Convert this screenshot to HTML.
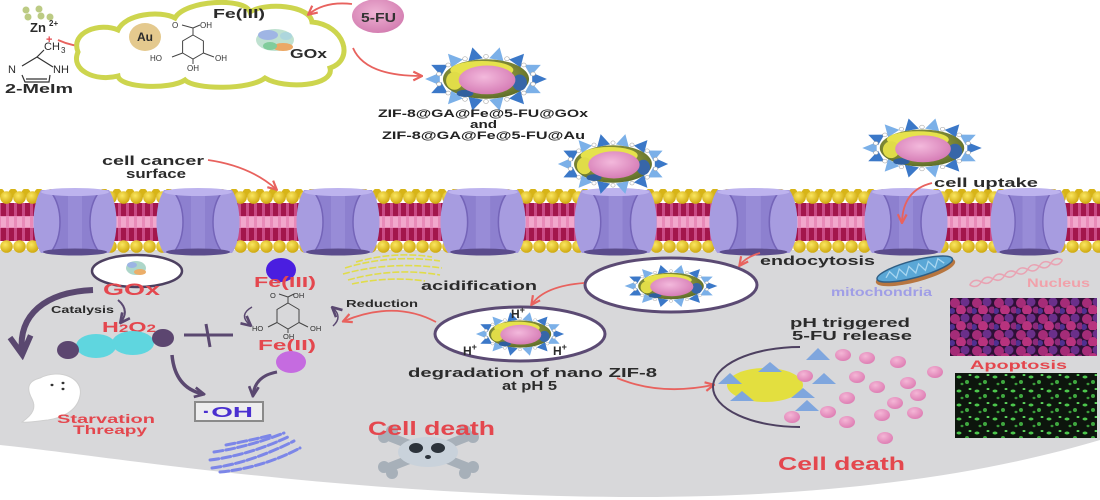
<!DOCTYPE html>
<html><head><meta charset="utf-8"><style>
html,body{margin:0;padding:0;background:#fff;}
svg{display:block;}
text{font-family:"Liberation Sans",Arial,sans-serif;}
</style></head><body>
<svg width="1100" height="500" viewBox="0 0 1100 500" xmlns="http://www.w3.org/2000/svg" xmlns:xlink="http://www.w3.org/1999/xlink">
<defs>
<radialGradient id="olive" cx="45%" cy="40%" r="60%"><stop offset="0" stop-color="#b7b94c"/><stop offset="1" stop-color="#5f6e2a"/></radialGradient>
<radialGradient id="pinkg" cx="45%" cy="40%" r="60%"><stop offset="0" stop-color="#f3b9dc"/><stop offset="1" stop-color="#d67db6"/></radialGradient>
<radialGradient id="bead" cx="40%" cy="35%" r="65%"><stop offset="0" stop-color="#fbe760"/><stop offset="1" stop-color="#cfa90f"/></radialGradient>
<radialGradient id="fu" cx="45%" cy="40%" r="60%"><stop offset="0" stop-color="#eeb3d4"/><stop offset="1" stop-color="#d47fb2"/></radialGradient>
<radialGradient id="pdot" cx="40%" cy="35%" r="65%"><stop offset="0" stop-color="#f4b6d6"/><stop offset="1" stop-color="#de7fb4"/></radialGradient>
<pattern id="lip" x="0" y="203" width="8" height="38" patternUnits="userSpaceOnUse"><rect width="8" height="38" fill="#c94a85"/><rect x="1" y="0" width="5" height="13" fill="#a3164c"/><rect x="1" y="25" width="5" height="13" fill="#a3164c"/><rect x="0" y="13" width="8" height="12" fill="#e98ab8"/><rect x="1" y="14" width="5" height="10" fill="#f2a8cc"/></pattern>
<pattern id="beadT" x="0" y="189" width="13" height="15" patternUnits="userSpaceOnUse"><circle cx="0" cy="4" r="4.5" fill="#d7b418"/><circle cx="13" cy="4" r="4.5" fill="#d7b418"/><circle cx="6.5" cy="8.5" r="6.3" fill="url(#bead)"/></pattern>
<pattern id="beadB" x="0" y="240" width="13" height="13" patternUnits="userSpaceOnUse"><circle cx="6.5" cy="6.5" r="6.3" fill="url(#bead)"/></pattern>
<pattern id="pinkImg" x="950" y="298" width="22" height="16" patternUnits="userSpaceOnUse"><rect width="22" height="16" fill="#2e1036"/><circle cx="5" cy="5" r="5" fill="#a52c78"/><circle cx="15" cy="4" r="4.5" fill="#6a2f8a"/><circle cx="11" cy="12" r="5" fill="#b8337e"/><circle cx="2" cy="13" r="3" fill="#4f3090"/><circle cx="20" cy="12" r="3.5" fill="#8c2a7a"/></pattern>
<pattern id="greenImg" x="955" y="373" width="18" height="14" patternUnits="userSpaceOnUse"><rect width="18" height="14" fill="#0d150d"/><ellipse cx="4" cy="4" rx="2.5" ry="1.5" fill="#4cc74c"/><ellipse cx="12" cy="9" rx="2" ry="2" fill="#3fa83f"/><ellipse cx="15" cy="2" rx="1.5" ry="1" fill="#5fd85f"/><ellipse cx="7" cy="11" rx="1.5" ry="1.2" fill="#3a9a3a"/></pattern>
<marker id="mr" markerUnits="userSpaceOnUse" viewBox="0 0 10 10" refX="8" refY="5" markerWidth="11" markerHeight="11" orient="auto"><path d="M1,1 L9,5 L1,9" fill="none" stroke="#e8625e" stroke-width="2"/></marker>
<marker id="md" markerUnits="userSpaceOnUse" viewBox="0 0 10 10" refX="8" refY="5" markerWidth="12" markerHeight="12" orient="auto"><path d="M1,1 L9,5 L1,9" fill="none" stroke="#5a4870" stroke-width="2.2"/></marker>
<marker id="mdB" markerUnits="userSpaceOnUse" viewBox="0 0 10 10" refX="7" refY="5" markerWidth="26" markerHeight="26" orient="auto"><path d="M1,1 L8,5 L1,9" fill="none" stroke="#5a4870" stroke-width="2.2"/></marker>
<g id="np">
<polygon points="-6,-7 8,0 -6,7" fill="#3b78c8" transform="translate(50,0)"/>
<polygon points="-6,-7 8,0 -6,7" fill="#7bb0e8" transform="translate(45,12.2) rotate(26)"/>
<polygon points="-6,-7 8,0 -6,7" fill="#3b78c8" transform="translate(31.2,21.9) rotate(51)"/>
<polygon points="-6,-7 8,0 -6,7" fill="#7bb0e8" transform="translate(11.2,27.3) rotate(77)"/>
<polygon points="-6,-7 8,0 -6,7" fill="#3b78c8" transform="translate(-11.2,27.3) rotate(103)"/>
<polygon points="-6,-7 8,0 -6,7" fill="#7bb0e8" transform="translate(-31.2,21.9) rotate(129)"/>
<polygon points="-6,-7 8,0 -6,7" fill="#3b78c8" transform="translate(-45,12.2) rotate(154)"/>
<polygon points="-6,-7 8,0 -6,7" fill="#7bb0e8" transform="translate(-50,0) rotate(180)"/>
<polygon points="-6,-7 8,0 -6,7" fill="#3b78c8" transform="translate(-45,-12.2) rotate(206)"/>
<polygon points="-6,-7 8,0 -6,7" fill="#7bb0e8" transform="translate(-31.2,-21.9) rotate(231)"/>
<polygon points="-6,-7 8,0 -6,7" fill="#3b78c8" transform="translate(-11.2,-27.3) rotate(257)"/>
<polygon points="-6,-7 8,0 -6,7" fill="#7bb0e8" transform="translate(11.2,-27.3) rotate(283)"/>
<polygon points="-6,-7 8,0 -6,7" fill="#3b78c8" transform="translate(31.2,-21.9) rotate(309)"/>
<polygon points="-6,-7 8,0 -6,7" fill="#7bb0e8" transform="translate(45,-12.2) rotate(334)"/>
<g fill="#fff" stroke="#a0a0a0" stroke-width="0.6">
<circle cx="44.8" cy="5.6" r="2.2"/><circle cx="36" cy="15.6" r="2.2"/><circle cx="20" cy="22.5" r="2.2"/><circle cx="0" cy="25" r="2.2"/><circle cx="-20" cy="22.5" r="2.2"/><circle cx="-36" cy="15.6" r="2.2"/><circle cx="-44.8" cy="5.6" r="2.2"/><circle cx="-44.8" cy="-5.6" r="2.2"/><circle cx="-36" cy="-15.6" r="2.2"/><circle cx="-20" cy="-22.5" r="2.2"/><circle cx="0" cy="-25" r="2.2"/><circle cx="20" cy="-22.5" r="2.2"/><circle cx="36" cy="-15.6" r="2.2"/><circle cx="44.8" cy="-5.6" r="2.2"/>
</g>
<ellipse rx="41" ry="22" fill="url(#olive)"/>
<ellipse cx="-4" cy="-10" rx="30" ry="10" fill="#e6e24c"/>
<ellipse cx="-30" cy="2" rx="8" ry="10" fill="#e0dc48"/>
<ellipse cx="32" cy="4" rx="7" ry="9" fill="#3766a8"/>
<ellipse cx="-20" cy="16" rx="8" ry="4" fill="#2f5f9e"/>
<ellipse cx="1" cy="1" rx="27" ry="16" fill="url(#pinkg)"/>
</g>
<g id="pu">
<path d="M6,190 L74,190 C84,205 84,240 74,253 L6,253 C-4,240 -4,205 6,190 Z" fill="#a79ce0"/>
<path d="M16,192 L64,192 C52,208 52,236 64,252 L16,252 C28,236 28,208 16,192 Z" fill="#8d80cf"/>
<rect x="33" y="196" width="14" height="54" fill="#a095dc" opacity="0.6"/>
<path d="M16,192 C28,208 28,236 16,252 M64,192 C52,208 52,236 64,252" fill="none" stroke="#7464b8" stroke-width="1.5"/>
<ellipse cx="40" cy="192" rx="34" ry="4" fill="#bdb3ee"/>
<ellipse cx="40" cy="252" rx="32" ry="3.5" fill="#5b4c8c"/>
</g>
</defs>

<rect width="1100" height="500" fill="#fff"/>

<path d="M0,250 L1100,250 L1100,440 C1000,470 850,497 640,497 C350,497 100,455 0,445 Z" fill="#d8d8da"/>

<rect x="0" y="203" width="1100" height="38" fill="url(#lip)"/>
<rect x="0" y="189" width="1100" height="15" fill="url(#beadT)"/>
<rect x="0" y="240" width="1100" height="13" fill="url(#beadB)"/>
<use href="#pu" xlink:href="#pu" transform="translate(35,0)"/>
<use href="#pu" xlink:href="#pu" transform="translate(158,0)"/>
<use href="#pu" xlink:href="#pu" transform="translate(298,0)"/>
<use href="#pu" xlink:href="#pu" transform="translate(442,0) scale(1.025,1)"/>
<use href="#pu" xlink:href="#pu" transform="translate(576,0) scale(0.99,1)"/>
<use href="#pu" xlink:href="#pu" transform="translate(711,0) scale(1.06,1)"/>
<use href="#pu" xlink:href="#pu" transform="translate(866,0)"/>
<use href="#pu" xlink:href="#pu" transform="translate(992,0) scale(0.925,1)"/>

<g fill="#bccb84"><circle cx="26" cy="10" r="3.5"/><circle cx="39" cy="9" r="3.5"/><circle cx="28" cy="17" r="3.5"/><circle cx="41" cy="16" r="3.5"/><circle cx="50" cy="17" r="3.5"/></g>
<text x="30" y="32" font-size="13" font-weight="bold" fill="#2b2b2b">Zn</text>
<text x="49" y="26" font-size="8" font-weight="bold" fill="#2b2b2b">2+</text>
<text x="46" y="43" font-size="11" font-weight="bold" fill="#e4474e">+</text>
<text x="44" y="50" font-size="11" fill="#2b2b2b">CH</text>
<text x="61" y="53" font-size="8" fill="#2b2b2b">3</text>
<g stroke="#333" stroke-width="1.2" fill="none">
<path d="M37,57 L53,67 M50,75 L49,82 L25,82 L22,75 M22,66 L37,57 M37,57 L44,50"/>
<path d="M26,79 L47,79"/>
</g>
<text x="8" y="73" font-size="11" fill="#2b2b2b">N</text>
<text x="53" y="73" font-size="11" fill="#2b2b2b">NH</text>
<text x="5" y="93" font-size="13" font-weight="bold" fill="#2b2b2b" textLength="68" lengthAdjust="spacingAndGlyphs">2-MeIm</text>
<path d="M58,40 Q80,50 104,45" fill="none" stroke="#e8625e" stroke-width="1.8" marker-end="url(#mr)"/>

<path d="M78,52 C70,32 100,22 118,30 C125,14 160,10 175,18 C185,0 245,-3 250,12 C265,2 310,5 312,22 C345,25 355,60 330,68 C335,86 285,90 265,78 C250,90 195,90 185,80 C170,90 120,88 118,76 C95,82 70,70 78,52 Z" fill="#fff" stroke="#cdd54e" stroke-width="5"/>
<ellipse cx="145" cy="37" rx="16" ry="14" fill="#e4c98e"/>
<text x="145" y="41" font-size="12" font-weight="bold" fill="#2b2b2b" text-anchor="middle">Au</text>
<text x="213" y="18" font-size="13" font-weight="bold" fill="#2b2b2b" textLength="52" lengthAdjust="spacingAndGlyphs">Fe(III)</text>
<g stroke="#444" stroke-width="1" fill="none">
<polygon points="193,35 203.4,41 203.4,53 193,59 182.6,53 182.6,41"/>
<path d="M193,35 L193,28 M193,28 L182,25 M193,28 L200,25 M182.6,53 L172,57 M203.4,53 L214,57 M193,59 L193,64"/>
</g>
<g font-size="8" fill="#333">
<text x="172" y="28">O</text><text x="200" y="28">OH</text><text x="150" y="61">HO</text><text x="215" y="61">OH</text><text x="187" y="71">OH</text>
</g>
<g opacity="0.85">
<ellipse cx="275" cy="40" rx="19" ry="11" fill="#b5dcc8"/>
<ellipse cx="268" cy="35" rx="10" ry="5" fill="#8fa9e0"/>
<ellipse cx="283" cy="47" rx="10" ry="4" fill="#e89a4a"/>
<ellipse cx="270" cy="46" rx="7" ry="4" fill="#6cc48a"/>
<ellipse cx="286" cy="36" rx="6" ry="4" fill="#9fd0d8"/>
</g>
<text x="290" y="58" font-size="13" font-weight="bold" fill="#2b2b2b" textLength="37" lengthAdjust="spacingAndGlyphs">GOx</text>

<ellipse cx="378" cy="16" rx="26" ry="17" fill="url(#fu)"/>
<text x="361" y="22" font-size="13" font-weight="bold" fill="#333" textLength="35" lengthAdjust="spacingAndGlyphs">5-FU</text>
<path d="M352,4 Q325,1 309,14" fill="none" stroke="#e8625e" stroke-width="1.8" marker-end="url(#mr)"/>
<path d="M353,48 Q365,76 421,76" fill="none" stroke="#e8625e" stroke-width="1.8" marker-end="url(#mr)"/>

<use href="#np" xlink:href="#np" transform="translate(486,79) scale(1.05,0.9)"/>
<use href="#np" xlink:href="#np" transform="translate(613,164) scale(0.95,0.85)"/>
<use href="#np" xlink:href="#np" transform="translate(922,148) scale(1.03,0.84)"/>
<text x="378" y="117" font-size="11" font-weight="bold" fill="#222" textLength="210" lengthAdjust="spacingAndGlyphs">ZIF-8@GA@Fe@5-FU@GOx</text>
<text x="470" y="128" font-size="11" font-weight="bold" fill="#222" textLength="27" lengthAdjust="spacingAndGlyphs">and</text>
<text x="382" y="139" font-size="11" font-weight="bold" fill="#222" textLength="203" lengthAdjust="spacingAndGlyphs">ZIF-8@GA@Fe@5-FU@Au</text>

<text x="102" y="165" font-size="13" font-weight="bold" fill="#2b2b2b" textLength="102" lengthAdjust="spacingAndGlyphs">cell cancer</text>
<text x="126" y="178" font-size="13" font-weight="bold" fill="#2b2b2b" textLength="60" lengthAdjust="spacingAndGlyphs">surface</text>
<path d="M208,160 Q250,166 276,189" fill="none" stroke="#e8625e" stroke-width="1.8" marker-end="url(#mr)"/>
<text x="934" y="187" font-size="13" font-weight="bold" fill="#2b2b2b" textLength="104" lengthAdjust="spacingAndGlyphs">cell uptake</text>
<path d="M932,183 Q903,190 902,222" fill="none" stroke="#e8625e" stroke-width="1.8" marker-end="url(#mr)"/>

<ellipse cx="137" cy="271" rx="45" ry="16" fill="#fff" stroke="#4d4060" stroke-width="2.5"/>
<g opacity="0.85"><ellipse cx="136" cy="268" rx="10" ry="7" fill="#9fd0c0"/><ellipse cx="140" cy="272" rx="6" ry="3" fill="#e8a050"/><ellipse cx="132" cy="265" rx="5" ry="3" fill="#8aa8e0"/></g>
<text x="103" y="295" font-size="17" font-weight="bold" fill="#e4474e" textLength="57" lengthAdjust="spacingAndGlyphs">GOx</text>
<text x="51" y="313" font-size="10" font-weight="bold" fill="#2b2b2b" textLength="63" lengthAdjust="spacingAndGlyphs">Catalysis</text>
<path d="M118,300 Q130,310 121,322" fill="none" stroke="#5a4870" stroke-width="2" marker-end="url(#md)"/>
<text x="102" y="332" font-size="15" font-weight="bold" fill="#e4474e" textLength="54" lengthAdjust="spacingAndGlyphs">H<tspan font-size="11">2</tspan>O<tspan font-size="11">2</tspan></text>
<ellipse cx="96" cy="346" rx="20" ry="12" fill="#5fd6df"/>
<ellipse cx="133" cy="343" rx="21" ry="12" fill="#5fd6df"/>
<ellipse cx="68" cy="350" rx="11" ry="9" fill="#5c4670"/>
<ellipse cx="163" cy="338" rx="11" ry="9" fill="#5c4670"/>
<path d="M93,290 C45,292 18,315 22,352" fill="none" stroke="#5a4870" stroke-width="6" marker-end="url(#mdB)"/>
<path d="M184,335 L233,335 M206,324 L210,347" stroke="#5a4870" stroke-width="3" fill="none"/>
<path d="M172,355 Q175,388 203,394" fill="none" stroke="#5a4870" stroke-width="3.5" marker-end="url(#md)"/>
<path d="M277,372 Q255,376 253,395" fill="none" stroke="#5a4870" stroke-width="3" marker-end="url(#md)"/>

<ellipse cx="281" cy="270" rx="15" ry="12" fill="#4a1ee0"/>
<text x="254" y="287" font-size="15" font-weight="bold" fill="#e4474e" textLength="62" lengthAdjust="spacingAndGlyphs">Fe(III)</text>
<g stroke="#444" stroke-width="1" fill="none">
<polygon points="288,303 299,309.5 299,322.5 288,329 277,322.5 277,309.5"/>
<path d="M288,303 L288,297 M288,297 L279,294 M288,297 L294,294 M277,322.5 L268,327 M299,322.5 L308,327 M288,329 L288,333"/>
</g>
<g font-size="7.5" fill="#333">
<text x="270" y="298">O</text><text x="293" y="298">OH</text><text x="252" y="331">HO</text><text x="310" y="331">OH</text><text x="283" y="339">OH</text>
</g>
<path d="M252,307 Q238,315 250,325" fill="none" stroke="#5a4870" stroke-width="1.5" marker-end="url(#md)"/>
<path d="M333,326 Q343,317 333,308" fill="none" stroke="#5a4870" stroke-width="1.5" marker-end="url(#md)"/>
<text x="346" y="307" font-size="10" font-weight="bold" fill="#2b2b2b" textLength="72" lengthAdjust="spacingAndGlyphs">Reduction</text>
<text x="258" y="350" font-size="15" font-weight="bold" fill="#e4474e" textLength="58" lengthAdjust="spacingAndGlyphs">Fe(II)</text>
<ellipse cx="291" cy="362" rx="15" ry="11" fill="#c56be0"/>

<rect x="195" y="402" width="68" height="19" fill="#ededee" stroke="#8a8a8a" stroke-width="2"/>
<text x="202" y="417" font-size="15" font-weight="bold" fill="#4a30d0" textLength="51" lengthAdjust="spacingAndGlyphs">·OH</text>

<path d="M40,378 C60,368 84,378 80,396 C77,412 60,418 48,420 C38,421 28,423 22,422 C34,414 36,407 32,399 C26,388 28,381 40,378 Z" fill="#fff" stroke="#cfcfcf" stroke-width="1"/>
<g fill="#333"><ellipse cx="52" cy="385" rx="1.5" ry="1.2"/><ellipse cx="63" cy="383" rx="1.5" ry="1.2"/><ellipse cx="63" cy="389" rx="1.5" ry="1.2"/></g>
<text x="57" y="423" font-size="12" font-weight="bold" fill="#e4474e" textLength="98" lengthAdjust="spacingAndGlyphs">Starvation</text>
<text x="73" y="434" font-size="12" font-weight="bold" fill="#e4474e" textLength="74" lengthAdjust="spacingAndGlyphs">Threapy</text>

<g fill="none" stroke="#7c86e8" stroke-width="3" stroke-dasharray="9 3" stroke-linecap="round">
<path d="M212,468 Q250,463 294,441"/>
<path d="M210,460 Q250,455 290,436"/>
<path d="M214,452 Q248,447 284,433"/>
<path d="M220,472 Q262,468 300,448"/>
<path d="M226,445 Q252,440 272,435"/>
</g>

<g stroke="#a7b0b9" stroke-width="9" stroke-linecap="round"><path d="M390,437 L467,467 M467,437 L390,467"/></g>
<g fill="#a7b0b9"><circle cx="384" cy="437" r="6"/><circle cx="392" cy="431" r="6"/><circle cx="473" cy="437" r="6"/><circle cx="465" cy="431" r="6"/><circle cx="384" cy="467" r="6"/><circle cx="392" cy="473" r="6"/><circle cx="473" cy="467" r="6"/><circle cx="465" cy="473" r="6"/></g>
<ellipse cx="428" cy="452" rx="30" ry="15" fill="#c9d2db"/>
<ellipse cx="416" cy="448" rx="7" ry="5" fill="#2c333b"/>
<ellipse cx="438" cy="448" rx="7" ry="5" fill="#2c333b"/>
<ellipse cx="428" cy="457" rx="3" ry="2" fill="#2c333b"/>
<text x="368" y="435" font-size="19" font-weight="bold" fill="#e4474e" textLength="127" lengthAdjust="spacingAndGlyphs">Cell death</text>

<g fill="none" stroke="#e0dc4a" stroke-width="1.6" stroke-dasharray="7 2">
<path d="M345,268 Q390,254 440,261"/>
<path d="M343,274 Q390,261 442,268"/>
<path d="M348,280 Q395,267 440,275"/>
<path d="M356,262 Q395,251 432,257"/>
<path d="M352,284 Q390,276 425,281"/>
</g>
<text x="421" y="290" font-size="13" font-weight="bold" fill="#2b2b2b" textLength="116" lengthAdjust="spacingAndGlyphs">acidification</text>

<ellipse cx="671" cy="285" rx="86" ry="27" fill="#fff" stroke="#5b4a73" stroke-width="3"/>
<use href="#np" xlink:href="#np" transform="translate(671,286) scale(0.8,0.6)"/>
<ellipse cx="520" cy="334" rx="85" ry="27" fill="#fff" stroke="#5b4a73" stroke-width="3"/>
<use href="#np" xlink:href="#np" transform="translate(520,334) scale(0.76,0.62)"/>
<g font-size="12" font-weight="bold" fill="#2b2b2b">
<text x="511" y="318">H<tspan dy="-5" font-size="9">+</tspan></text>
<text x="463" y="355">H<tspan dy="-5" font-size="9">+</tspan></text>
<text x="553" y="355">H<tspan dy="-5" font-size="9">+</tspan></text>
</g>
<path d="M584,283 Q545,286 532,304" fill="none" stroke="#e8625e" stroke-width="1.8" marker-end="url(#mr)"/>
<path d="M436,322 Q395,300 344,321" fill="none" stroke="#e8625e" stroke-width="1.8" marker-end="url(#mr)"/>
<text x="408" y="377" font-size="13" font-weight="bold" fill="#2b2b2b" textLength="249" lengthAdjust="spacingAndGlyphs">degradation of nano ZIF-8</text>
<text x="502" y="390" font-size="13" font-weight="bold" fill="#2b2b2b" textLength="55" lengthAdjust="spacingAndGlyphs">at pH 5</text>
<path d="M617,378 Q660,396 713,385" fill="none" stroke="#e8625e" stroke-width="1.8" marker-end="url(#mr)"/>

<text x="760" y="265" font-size="13" font-weight="bold" fill="#2b2b2b" textLength="115" lengthAdjust="spacingAndGlyphs">endocytosis</text>
<path d="M760,253 Q746,257 740,265" fill="none" stroke="#e8625e" stroke-width="1.8" marker-end="url(#mr)"/>

<g transform="translate(915,270) rotate(-15)">
<ellipse cx="0" cy="2" rx="41" ry="10" fill="#b77640"/>
<ellipse cx="0" cy="-1" rx="39" ry="8.5" fill="#5aa7d6" stroke="#2f5f86" stroke-width="1.5"/>
<path d="M-30,0 L-25,-5 L-20,3 L-15,-5 L-10,3 L-5,-5 L0,3 L5,-5 L10,3 L15,-5 L20,3 L25,-5 L30,1" fill="none" stroke="#a8d6f0" stroke-width="1.3"/>
</g>
<text x="831" y="296" font-size="12" font-weight="bold" fill="#a09ee6" textLength="101" lengthAdjust="spacingAndGlyphs">mitochondria</text>

<g transform="translate(1018,272) rotate(-15)" fill="none" stroke="#e9a3b3" stroke-width="1.5">
<path d="M-50,0 Q-44,-6 -38,0 T-26,0 T-14,0 T-2,0 T10,0 T22,0 T34,0 T46,0"/>
<path d="M-50,0 Q-44,6 -38,0 T-26,0 T-14,0 T-2,0 T10,0 T22,0 T34,0 T46,0"/>
</g>
<text x="1027" y="287" font-size="12" font-weight="bold" fill="#f1a1aa" textLength="63" lengthAdjust="spacingAndGlyphs">Nucleus</text>

<rect x="950" y="298" width="147" height="58" fill="url(#pinkImg)"/>
<text x="970" y="369" font-size="12" font-weight="bold" fill="#e4474e" textLength="97" lengthAdjust="spacingAndGlyphs">Apoptosis</text>
<rect x="955" y="373" width="142" height="65" fill="url(#greenImg)"/>

<text x="790" y="327" font-size="13" font-weight="bold" fill="#2b2b2b" textLength="120" lengthAdjust="spacingAndGlyphs">pH triggered</text>
<text x="792" y="340" font-size="13" font-weight="bold" fill="#2b2b2b" textLength="120" lengthAdjust="spacingAndGlyphs">5-FU release</text>
<path d="M800,347 A87,40 0 0 0 800,427" fill="none" stroke="#4d4060" stroke-width="2"/>
<ellipse cx="765" cy="385" rx="38" ry="17" fill="#e3df3f"/>
<g fill="#7fa6de">
<polygon points="806,360 818,348 830,360"/>
<polygon points="758,372 770,362 782,372"/>
<polygon points="718,384 730,373 742,384"/>
<polygon points="812,384 824,373 836,384"/>
<polygon points="730,401 742,391 754,401"/>
<polygon points="791,398 803,388 815,398"/>
<polygon points="795,411 807,400 819,411"/>
</g>
<g fill="url(#pdot)">
<ellipse cx="843" cy="355" rx="8" ry="6"/><ellipse cx="867" cy="358" rx="8" ry="6"/><ellipse cx="898" cy="362" rx="8" ry="6"/><ellipse cx="935" cy="372" rx="8" ry="6"/><ellipse cx="805" cy="376" rx="8" ry="6"/><ellipse cx="857" cy="377" rx="8" ry="6"/><ellipse cx="908" cy="383" rx="8" ry="6"/><ellipse cx="877" cy="387" rx="8" ry="6"/><ellipse cx="918" cy="395" rx="8" ry="6"/><ellipse cx="847" cy="398" rx="8" ry="6"/><ellipse cx="895" cy="403" rx="8" ry="6"/><ellipse cx="915" cy="413" rx="8" ry="6"/><ellipse cx="828" cy="412" rx="8" ry="6"/><ellipse cx="882" cy="415" rx="8" ry="6"/><ellipse cx="792" cy="417" rx="8" ry="6"/><ellipse cx="847" cy="422" rx="8" ry="6"/><ellipse cx="885" cy="438" rx="8" ry="6"/>
</g>
<text x="778" y="470" font-size="18" font-weight="bold" fill="#e4474e" textLength="127" lengthAdjust="spacingAndGlyphs">Cell death</text>
</svg>
</body></html>
